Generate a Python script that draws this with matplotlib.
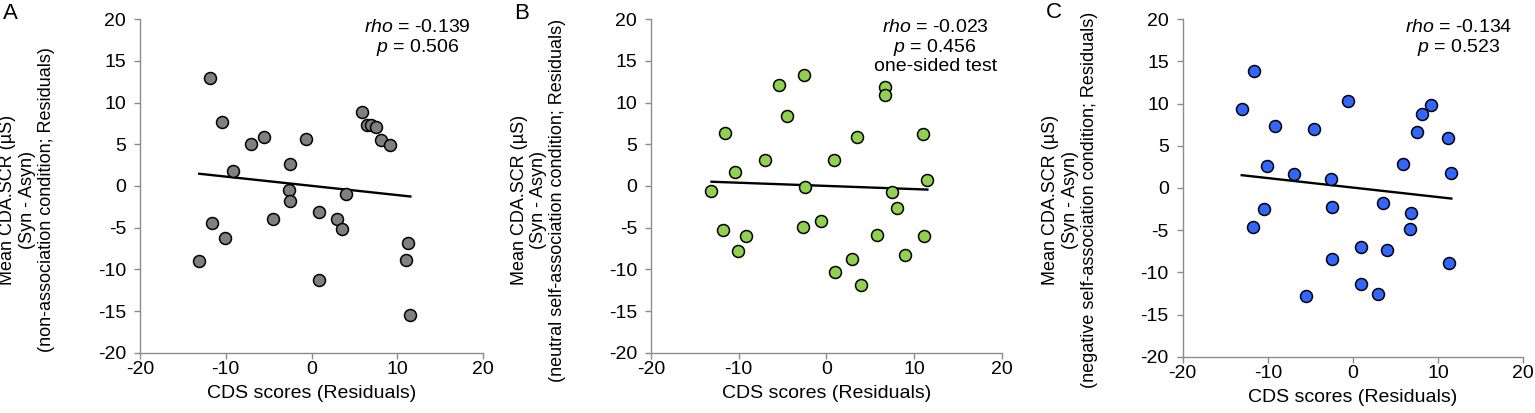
import matplotlib
matplotlib.use("Agg")
import matplotlib.pyplot as plt
import numpy as np

plt.rcParams["font.family"] = ["Liberation Sans", "DejaVu Sans"]
plt.rcParams["mathtext.fontset"] = "custom"
plt.rcParams["mathtext.rm"] = "Liberation Sans"
plt.rcParams["mathtext.it"] = "Liberation Sans:italic"
plt.rcParams["axes.unicode_minus"] = False

# Panel A: non-association condition
a_x = [-11.8, -10.4, -7.0, -5.5, -0.6, -9.2, -2.5, -2.6, -2.45, 4.0, -11.6, -10.1,
       -13.1, -4.5, 0.93, 2.95, 3.53, 0.93, 5.86, 6.5, 6.9, 7.53, 8.16, 9.13, 11.2,
       11.07, 11.53]
a_y = [12.9, 7.64, 5.0, 5.84, 5.64, 1.8, 2.64, -0.52, -1.84, -0.96, -4.4, -6.24,
       -9.0, -3.92, -3.16, -4.0, -5.16, -11.28, 8.84, 7.3, 7.3, 7.04, 5.48, 4.88,
       -6.84, -8.84, -15.5]

# Panel B: neutral self-association condition
b_x = [-2.55, -5.44, -4.52, -11.6, -7.0, -10.4, -13.1, -2.47, 0.91, 3.54, 6.73, 6.65,
       11.06, 11.52, 7.53, 8.06, -11.75, -9.2, -10.1, -2.62, -0.61, 5.82, 11.14, 9.0,
       2.89, 0.95, 3.99]
b_y = [13.36, 12.16, 8.36, 6.32, 3.12, 1.68, -0.56, -0.16, 3.08, 5.88, 11.88, 10.96,
       6.28, 0.68, -0.68, -2.68, -5.28, -6.04, -7.8, -4.96, -4.24, -5.92, -5.96, -8.24,
       -8.76, -10.28, -11.84]

# Panel C: negative self-association condition
c_x = [-11.6, -13.07, -9.16, -4.54, -0.59, 9.12, 8.1, 7.51, 11.1, 5.91, 11.55, -10.06,
       -6.97, -2.54, -2.5, 3.56, 6.81, 6.69, -10.4, -11.74, 0.94, 3.99, -2.43, 11.23,
       0.98, 2.94, -5.48]
c_y = [13.9, 9.37, 7.31, 6.96, 10.3, 9.84, 8.77, 6.64, 5.93, 2.81, 1.78, 2.65,
       1.62, 1.11, -2.21, -1.82, -2.96, -4.86, -2.53, -4.66, -7.0, -7.35, -8.46, -8.89,
       -11.42, -12.57, -12.85]

stats_text = [
    ("-0.139", "0.506", ""),
    ("-0.023", "0.456", "one-sided test"),
    ("-0.134", "0.523", ""),
]
cond_labels = [
    "non-association condition",
    "neutral self-association condition",
    "negative self-association condition",
]
panel_letters = ["A", "B", "C"]
colors = ["#808080", "#92d050", "#3366ff"]

W, H = 1535, 413
fig = plt.figure(figsize=(W / 100, H / 100), dpi=100)
# axes boxes in pixels: left, top, right, bottom
boxes = [
    (140, 19.3, 483, 352.7),
    (651, 19.3, 1001.7, 352.7),
    (1182.7, 19.3, 1523.3, 356.7),
]
data = [(a_x, a_y), (b_x, b_y), (c_x, c_y)]

for i, (xs, ys) in enumerate(data):
    l, t, r, b = boxes[i]
    ax = fig.add_axes((l / W, 1 - b / H, (r - l) / W, (b - t) / H))
    wpx = r - l
    hpx = b - t
    xs = np.asarray(xs)
    ys = np.asarray(ys)
    ax.scatter(xs, ys, s=74, color=colors[i], edgecolor="black", linewidth=1.1, zorder=3)
    slope, icpt = np.polyfit(xs, ys, 1)
    xl = np.array([xs.min(), xs.max()])
    ax.plot(xl, icpt + slope * xl, color="black", lw=1.7, zorder=2)

    ax.set_xlim(-20, 20)
    ax.set_ylim(-20, 20)
    ax.set_xticks(np.arange(-20, 21, 10))
    ax.set_yticks(np.arange(-20, 21, 5))
    for side in ("top", "right"):
        ax.spines[side].set_visible(False)
    for side in ("left", "bottom"):
        ax.spines[side].set_color("#8c8c8c")
        ax.spines[side].set_linewidth(1.0)
    ax.tick_params(direction="out", length=4, width=1.0, color="#8c8c8c", labelsize=14)
    ax.tick_params(axis="y", pad=6)
    ax.tick_params(axis="x", pad=2)

    ax.set_xlabel("CDS scores (Residuals)", fontsize=14, labelpad=5)

    # three-line y label, centred a little below the axes middle
    ylines = ["Mean CDA.SCR (\u00b5S)", "(Syn - Asyn)", "(" + cond_labels[i] + "; Residuals)"]
    ymid = (b - 200) / hpx
    for k, line in enumerate(ylines):
        ax.text((-132 + 19.5 * k) / wpx, ymid, line, transform=ax.transAxes, rotation=90,
                ha="center", va="center", rotation_mode="anchor", fontsize=13)

    rho, p, extra = stats_text[i]
    txt = r"$\it{rho}$ = " + rho + "\n" + r"$\it{p}$ = " + p
    if extra:
        txt += "\n" + extra
    ax.text(0.81, 1.0, txt, transform=ax.transAxes, ha="center", va="top",
            fontsize=14, linespacing=1.02)

    ax.text(-137 / wpx, 1.05, panel_letters[i], transform=ax.transAxes,
            ha="left", va="top", fontsize=16)

fig.savefig("out.png", dpi=100)
